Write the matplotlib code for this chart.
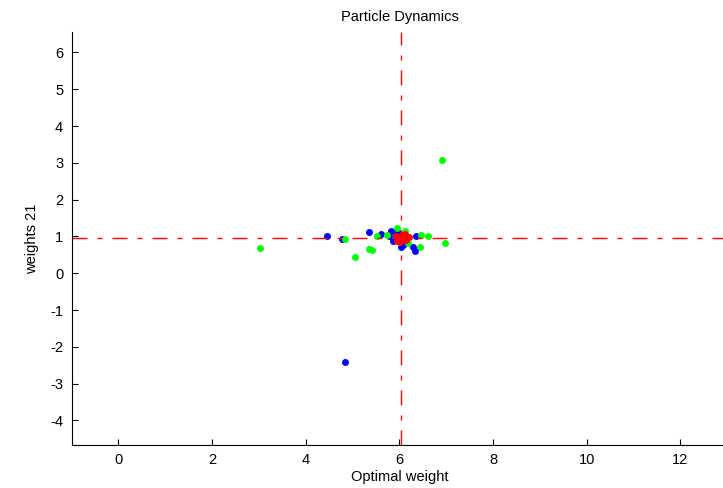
import numpy as np
import matplotlib
matplotlib.use('Agg')
import matplotlib.pyplot as plt

plt.rcParams['font.family'] = ['Liberation Sans', 'DejaVu Sans']
plt.rcParams['axes.unicode_minus'] = False

# particle positions
blue_x = [4.45, 4.77, 5.35, 5.6, 5.82, 5.9, 5.78, 5.98, 5.86, 5.94, 6.04, 6.08, 6.29, 6.33, 6.36, 4.83]
blue_y = [1.01, 0.92, 1.12, 1.07, 1.16, 1.12, 1.01, 1.10, 0.87, 0.90, 0.70, 0.78, 0.72, 0.60, 1.01, -2.42]

green_x = [3.03, 4.84, 5.05, 5.42, 5.53, 5.74, 5.94, 6.11, 6.18, 6.43, 6.47, 6.62, 6.98, 6.91, 5.36]
green_y = [0.69, 0.94, 0.43, 0.63, 1.01, 1.05, 1.24, 1.15, 0.82, 0.72, 1.05, 1.01, 0.81, 3.08, 0.66]

red_x = [6.0, 6.1, 5.95, 6.15, 6.05, 6.2, 5.92, 6.02, 6.12]
red_y = [0.95, 1.0, 0.88, 0.90, 1.05, 0.98, 1.0, 0.85, 1.06]

opt_x = 6.04
opt_y = 0.95

fig = plt.figure(figsize=(7.23, 4.88), dpi=100)
ax = fig.add_axes([0.099, 0.088, 0.907, 0.846])

ax.plot(blue_x, blue_y, 'o', color='#0000ff', ms=5, mew=0)
ax.plot(green_x, green_y, 'o', color='#00ff00', ms=5, mew=0)
ax.plot(red_x, red_y, 'o', color='#ff0000', ms=5, mew=0)

dd = (0, (10.8, 7.2, 3.6, 7.2))
ax.axvline(opt_x, color='#ff0000', ls=dd, lw=1)
ax.axhline(opt_y, color='#ff0000', ls=dd, lw=1)

ax.set_xlim(-1, 13)
ax.set_ylim(-4.67, 6.55)
ax.set_xticks(np.arange(0, 13, 2))
ax.set_yticks(np.arange(-4, 7, 1))

for s in ['top', 'right']:
    ax.spines[s].set_visible(False)
ax.tick_params(direction='in', length=4, labelsize=10.5, pad=6)

ax.set_title('Particle Dynamics', fontsize=10.5, pad=8)
ax.set_xlabel('Optimal weight', fontsize=10.5, labelpad=2)
ax.set_ylabel('weights 21', fontsize=10.5, labelpad=8)

fig.savefig('out.png', dpi=100)
